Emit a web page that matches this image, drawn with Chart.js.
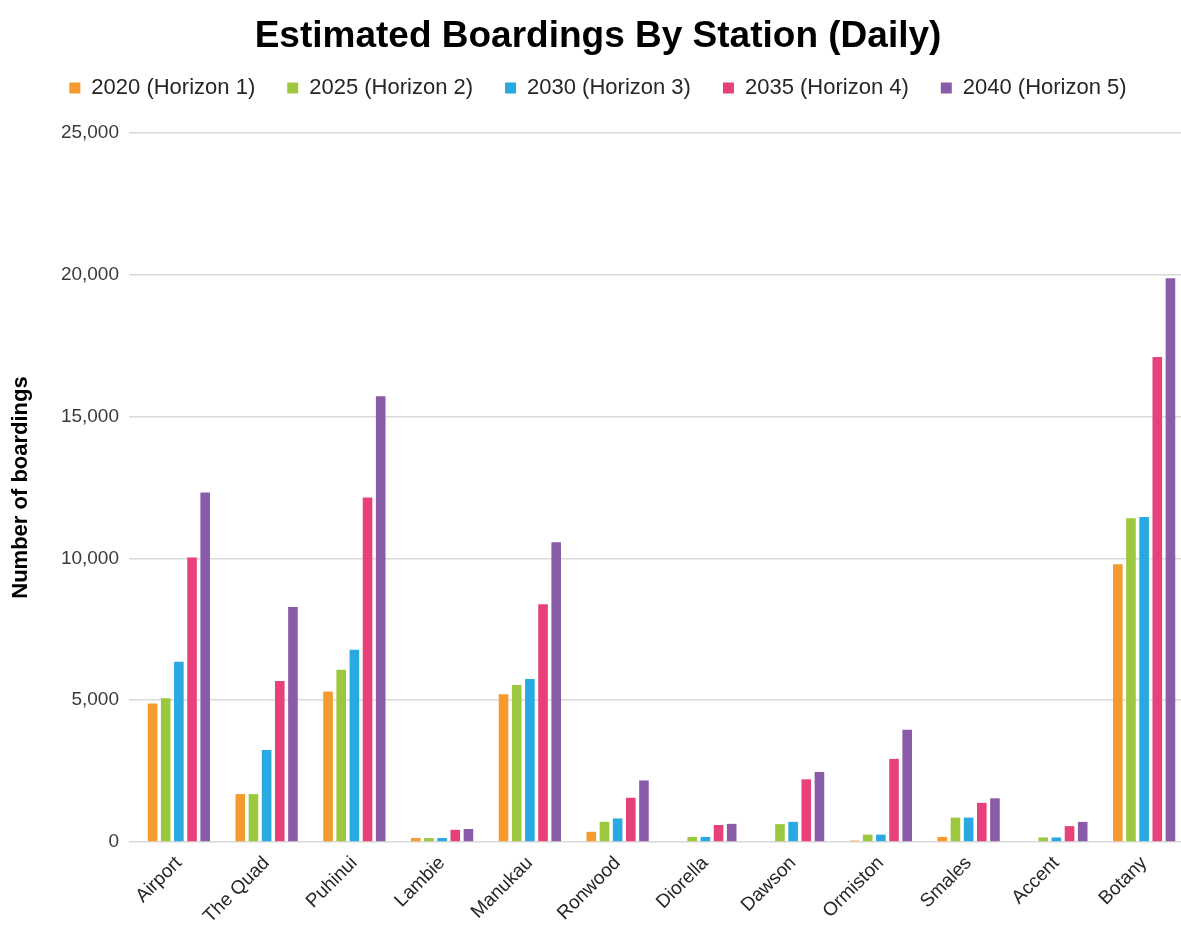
<!DOCTYPE html>
<html>
<head>
<meta charset="utf-8">
<script src="https://cdn.jsdelivr.net/npm/chart.js"></script>
<style>
  html, body { margin: 0; padding: 0; background: #fff; overflow: hidden; }
  #wrap { width: 1188px; height: 943px; }
</style>
</head>
<body>
<div id="wrap"><canvas id="boardingsChart" width="1188" height="943"></canvas></div>
<script>
// station names along the x axis
const stations = ['Airport', 'The Quad', 'Puhinui', 'Lambie', 'Manukau', 'Ronwood',
  'Diorella', 'Dawson', 'Ormiston', 'Smales', 'Accent', 'Botany'];

// daily boardings per horizon
const h2020 = [4880, 1690, 5310, 140, 5210, 360, 0, 0, 50, 180, 0, 9790];
const h2025 = [5070, 1690, 6070, 140, 5540, 710, 180, 630, 260, 860, 160, 11420];
const h2030 = [6360, 3240, 6780, 140, 5750, 830, 180, 710, 260, 860, 160, 11460];
const h2035 = [10030, 5680, 12150, 430, 8380, 1560, 600, 2210, 2930, 1380, 560, 17100];
const h2040 = [12320, 8290, 15720, 460, 10570, 2170, 640, 2470, 3960, 1540, 710, 19880];

const seriesLabels = ['2020 (Horizon 1)', '2025 (Horizon 2)', '2030 (Horizon 3)',
  '2035 (Horizon 4)', '2040 (Horizon 5)'];
const seriesColors = ['#F59B2D', '#9CC840', '#29A9E1', '#E8417A', '#8A5BA8'];

const yTicks = [0, 5000, 10000, 15000, 20000, 25000];

const font = 'Liberation Sans, Arial, sans-serif';
const seriesData = [h2020, h2025, h2030, h2035, h2040];

const ctx = document.getElementById('boardingsChart').getContext('2d');
new Chart(ctx, {
  type: 'bar',
  data: {
    labels: stations,
    datasets: seriesData.map((d, i) => ({
      label: seriesLabels[i],
      data: d,
      backgroundColor: seriesColors[i],
      borderWidth: 0,
      categoryPercentage: 0.75,
      barPercentage: 0.73
    }))
  },
  options: {
    responsive: false,
    animation: false,
    layout: { padding: { left: 8, right: 0, top: 0, bottom: 0 } },
    plugins: {
      title: {
        display: true,
        text: 'Estimated Boardings By Station (Daily)',
        color: '#000',
        font: { family: font, size: 37, weight: 'bold', lineHeight: 1.2 },
        padding: { top: 15, bottom: -14.4 }
      },
      // empty spacer between legend and plot
      subtitle: {
        display: true,
        text: ' ',
        weight: 500,
        font: { family: font, size: 10, lineHeight: 1 },
        padding: { top: 14, bottom: 0 }
      },
      legend: {
        position: 'top',
        labels: {
          color: '#262626',
          font: { family: font, size: 22 },
          boxWidth: 11,
          boxHeight: 11,
          padding: 32
        }
      },
      tooltip: { enabled: false }
    },
    scales: {
      x: {
        grid: { display: false },
        border: { display: false },
        ticks: {
          color: '#262626',
          font: { family: font, size: 19 },
          maxRotation: 45,
          minRotation: 45,
          autoSkip: false,
          padding: 2
        },
        afterFit: (s) => { s.height = 101; }
      },
      y: {
        min: 0,
        max: 25000,
        afterBuildTicks: (s) => { s.ticks = yTicks.map(v => ({ value: v })); },
        grid: { color: '#d9d9d9', lineWidth: 1.5, tickLength: 6 },
        border: { display: false },
        ticks: {
          color: '#3a3a3a',
          font: { family: font, size: 19 },
          padding: 10,
          callback: (v) => v.toLocaleString('en-US')
        },
        title: {
          display: true,
          text: 'Number of boardings',
          color: '#000',
          font: { family: font, size: 22, weight: 'bold' },
          padding: { top: 0, bottom: 5 }
        },
        afterFit: (s) => { s.width = 127; }
      }
    }
  }
});
</script>
</body>
</html>
